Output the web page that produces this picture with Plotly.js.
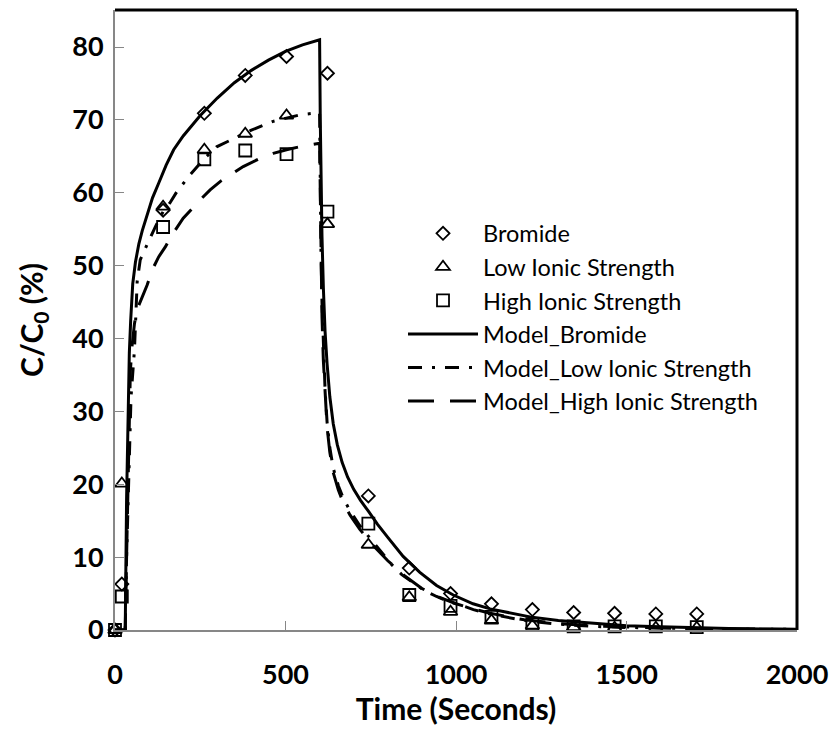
<!DOCTYPE html>
<html>
<head>
<meta charset="utf-8">
<script src="https://cdn.plot.ly/plotly-3.0.1.min.js"></script>
<style>
  html, body { margin: 0; padding: 0; background: #fff; }
  #chart { width: 834px; height: 732px; }
</style>
</head>
<body>
<div id="chart"></div>
<script>
// Measured breakthrough data (time in seconds, C/C0 in %)
const tObs = [0, 20, 141, 262, 382, 503, 623, 743, 863, 984, 1104, 1224, 1345, 1465, 1586, 1706];
const bromideObs = [0, 6.3, 57.6, 70.9, 76.1, 78.7, 76.4, 18.4, 8.5, 5.0, 3.6, 2.8, 2.4, 2.3, 2.2, 2.2];
const lowIonicObs = [0, 20.1, 58.1, 65.9, 68.1, 70.6, 55.7, 11.7, 4.5, 2.5, 1.3, 0.6, 0.4, 0.3, 0.3, 0.3];
const highIonicObs = [0, 4.6, 55.3, 64.6, 65.8, 65.3, 57.4, 14.6, 4.8, 3.3, 1.8, 0.8, 0.5, 0.5, 0.5, 0.4];

// Model curves
const tBromideModel = [0, 30, 34, 38, 42, 46, 52, 60, 70, 80, 95, 110, 128, 150, 172, 200, 250, 300, 350, 400, 450, 500, 550, 600,
  602, 604, 607, 611, 616, 622, 630, 640, 652, 666, 682, 700, 720, 743, 770, 800, 845, 894, 943, 992, 1050, 1100, 1150, 1217, 1300, 1400, 1500, 1600, 1700, 1800, 1900, 2000];
const vBromideModel = [0, 0, 18, 31, 38, 42.5, 47.5, 50.5, 53, 54.8, 57, 59.3, 61.3, 63.8, 65.9, 67.8, 70.6, 73, 75.1, 76.8, 78.2, 79.4, 80.3, 81.0,
  70, 62, 54, 47, 41, 36.5, 32, 28.3, 25.4, 23, 21, 19.3, 17.8, 16.3, 14.5, 12.7, 10.1, 7.9, 6.1, 4.8, 3.6, 2.9, 2.4, 1.8, 1.3, 0.9, 0.6, 0.45, 0.3, 0.2, 0.15, 0.1];

const tLowModel = [0, 30, 34, 40, 47, 57, 61, 65, 74, 85, 99, 120, 141, 161, 182, 221, 260, 298, 347, 400, 464, 543, 600,
  602, 604, 607, 611, 616, 622, 630, 640, 655, 670, 689, 718, 757, 782, 811, 841, 870, 904, 943, 973, 1021, 1051, 1100, 1200, 1300, 1400, 1500, 1600, 1700, 1800, 1900, 2000];
const vLowModel = [0, 0, 10, 22, 32, 38.4, 43.9, 47.8, 50.8, 52, 53.4, 55.5, 57.4, 58.6, 60.2, 62.5, 64.6, 66.3, 67.4, 68.6, 69.8, 70.7, 71.0,
  60, 52, 45, 38.5, 33, 28.5, 25, 22.2, 19.8, 18.0, 16.4, 14.3, 12.1, 10.6, 9.0, 7.6, 6.6, 5.5, 4.6, 4.0, 3.3, 2.8, 2.2, 1.3, 0.8, 0.5, 0.35, 0.25, 0.18, 0.12, 0.1, 0.08];

const tHighModel = [0, 30, 34, 38, 42, 45, 50, 57, 64, 80, 94, 109, 128, 148, 167, 200, 226, 249, 279, 310, 347, 376, 420, 464, 503, 550, 600,
  602, 604, 607, 611, 616, 622, 630, 640, 655, 670, 689, 718, 757, 800, 850, 900, 950, 1000, 1050, 1100, 1200, 1300, 1400, 1500, 1600, 1700, 1800, 1900, 2000];
const vHighModel = [0, 0, 10, 20, 30, 35.5, 39, 42, 43.9, 45.8, 47.3, 49.4, 51.2, 52.6, 54.2, 56.5, 57.9, 59.0, 60.4, 61.6, 62.7, 63.6, 64.6, 65.4, 65.9, 66.4, 66.8,
  57, 50, 43, 37, 32, 27.8, 24.4, 21.6, 19.2, 17.4, 15.8, 13.8, 11.6, 9.5, 7.4, 5.7, 4.5, 3.6, 2.9, 2.3, 1.4, 0.9, 0.55, 0.38, 0.27, 0.19, 0.13, 0.1, 0.08];

const yTicks = [0, 10, 20, 30, 40, 50, 60, 70, 80];
const xTicks = [0, 500, 1000, 1500, 2000];

const FONT = 'Lato, "Open Sans", sans-serif';
const AXIS_GRAY = '#878787';

const markerLine = { color: '#000', width: 1.8 };

const traces = [
  {
    name: 'Model_Bromide', x: tBromideModel, y: vBromideModel, mode: 'lines',
    line: { color: '#000', width: 3 }, legendrank: 4
  },
  {
    name: 'Model_Low Ionic Strength', x: tLowModel, y: vLowModel, mode: 'lines',
    line: { color: '#000', width: 3, dash: '14px,10px,3px,10px' }, legendrank: 5
  },
  {
    name: 'Model_High Ionic Strength', x: tHighModel, y: vHighModel, mode: 'lines',
    line: { color: '#000', width: 3, dash: '26px,16px' }, legendrank: 6
  },
  {
    name: 'Bromide', x: tObs, y: bromideObs, mode: 'markers', cliponaxis: false,
    marker: { symbol: 'diamond-open', size: 10, color: '#000', line: markerLine }, legendrank: 1
  },
  {
    name: 'Low Ionic Strength', x: tObs, y: lowIonicObs, mode: 'markers', cliponaxis: false,
    marker: { symbol: 'triangle-up-open', size: 12, color: '#000', line: markerLine }, legendrank: 2
  },
  {
    name: 'High Ionic Strength', x: tObs, y: highIonicObs, mode: 'markers', cliponaxis: false,
    marker: { symbol: 'square-open', size: 12, color: '#000', line: markerLine }, legendrank: 3
  }
];

const layout = {
  width: 834, height: 732,
  margin: { l: 115, r: 37, t: 10, b: 102 },
  paper_bgcolor: '#fff', plot_bgcolor: '#fff',
  showlegend: true,
  legend: {
    x: 0.4223, xanchor: 'left', y: 0.675, yanchor: 'top',
    bgcolor: 'rgba(0,0,0,0)', borderwidth: 0,
    itemwidth: 70,
    font: { family: FONT, size: 23.5, color: '#000' }
  },
  xaxis: {
    range: [0, 2000], tickvals: xTicks, ticktext: xTicks.map(String),
    showgrid: false, zeroline: false,
    showline: true, linecolor: AXIS_GRAY, linewidth: 2,
    ticks: 'inside', ticklen: 9, tickwidth: 1, tickcolor: AXIS_GRAY,
    ticklabelstandoff: 20,
    tickfont: { family: FONT, size: 27, color: '#000', weight: 'bold' },
    title: { text: 'Time (Seconds)', font: { family: FONT, size: 30, color: '#000', weight: 'bold' }, standoff: 4 }
  },
  yaxis: {
    range: [0, 85.08], tickvals: yTicks, ticktext: yTicks.map(String),
    showgrid: false, zeroline: false,
    showline: true, linecolor: AXIS_GRAY, linewidth: 2,
    ticks: 'inside', ticklen: 9, tickwidth: 1, tickcolor: AXIS_GRAY,
    ticklabelstandoff: 4,
    tickfont: { family: FONT, size: 27, color: '#000', weight: 'bold' },
    title: { text: 'C/C<sub>0</sub> (%)', font: { family: FONT, size: 30, color: '#000', weight: 'bold' }, standoff: 20 }
  },
  // black frame along the top and right of the plotting area
  shapes: [
    { type: 'line', xref: 'paper', yref: 'paper', x0: 0, x1: 1, y0: 1, y1: 1, line: { color: '#000', width: 3 } },
    { type: 'line', xref: 'paper', yref: 'paper', x0: 1, x1: 1, y0: 0, y1: 1, line: { color: '#000', width: 3 } }
  ]
};

Plotly.newPlot('chart', traces, layout, { displayModeBar: false, staticPlot: true });
</script>
</body>
</html>
